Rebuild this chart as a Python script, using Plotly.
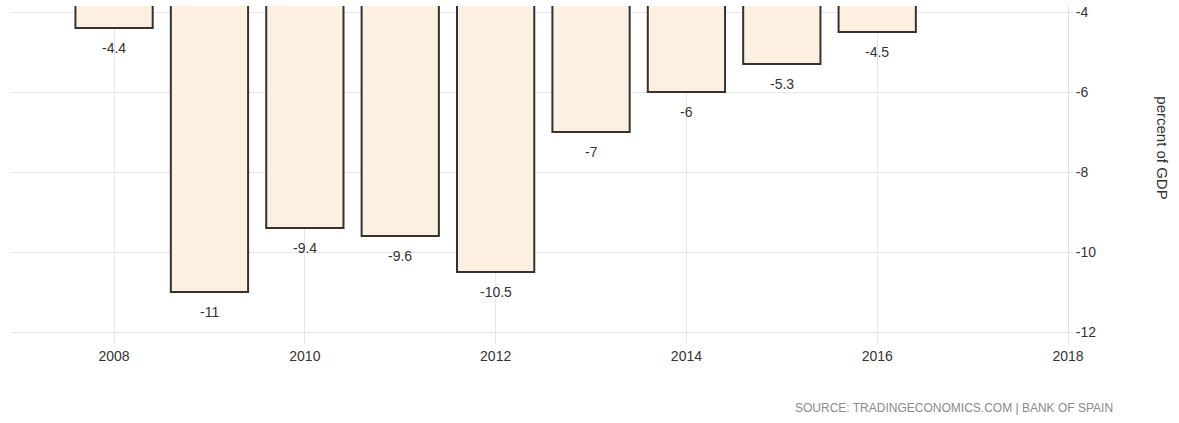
import plotly.graph_objects as go

years = [2008, 2009, 2010, 2011, 2012, 2013, 2014, 2015, 2016]
values = [-4.4, -11, -9.4, -9.6, -10.5, -7, -6, -5.3, -4.5]
labels = ["-4.4", "-11", "-9.4", "-9.6", "-10.5", "-7", "-6", "-5.3", "-4.5"]
x_ticks = [2008, 2010, 2012, 2014, 2016, 2018]
y_ticks = [-4, -6, -8, -10, -12]

FONT = "Liberation Sans, Arial"

fig = go.Figure()
fig.add_trace(go.Bar(
    x=years, y=values, width=0.81,
    marker=dict(color="#fdf0e0", line=dict(color="#333333", width=2)),
    hoverinfo="x+y",
))

for x, y, t in zip(years, values, labels):
    fig.add_annotation(x=x, y=y, text=t, showarrow=False, yshift=-20,
                       yanchor="middle", xanchor="center",
                       font=dict(family=FONT, size=14, color="#333333"))

fig.add_annotation(xref="paper", yref="paper", x=1.0895, y=0.565, text="percent of GDP",
                   textangle=90, showarrow=False, xanchor="center", yanchor="middle",
                   font=dict(family=FONT, size=15, color="#333333"))
fig.add_annotation(xref="paper", yref="paper", x=1.0445, y=-0.232,
                   text="SOURCE: TRADINGECONOMICS.COM | BANK OF SPAIN",
                   showarrow=False, xanchor="right", yanchor="middle",
                   font=dict(family=FONT, size=12, color="#8a8a8a"))

fig.update_layout(
    width=1179, height=423,
    margin=dict(l=12, r=111, t=4, b=91),
    paper_bgcolor="white", plot_bgcolor="white",
    showlegend=False,
    xaxis=dict(range=[2006.93, 2018], tickvals=x_ticks, ticktext=[str(v) for v in x_ticks],
               showgrid=True, gridcolor="#e6e6e6", gridwidth=1,
               ticks="outside", ticklen=11, tickcolor="#e6e6e6",
               showline=True, linecolor="#e0e0e0", linewidth=1,
               zeroline=False,
               tickfont=dict(family=FONT, size=14, color="#333333")),
    yaxis=dict(range=[-12, -3.85], tickvals=y_ticks, ticktext=[str(v) for v in y_ticks],
               side="right", showgrid=True, gridcolor="#e6e6e6", gridwidth=1,
               ticks="outside", ticklen=4, tickcolor="#e0e0e0",
               showline=True, linecolor="#e0e0e0", linewidth=1,
               zeroline=False,
               tickfont=dict(family=FONT, size=14, color="#333333")),
)

fig.write_html("out.html", config={"displayModeBar": False},
               post_script="document.body.style.margin='0';document.body.style.overflow='hidden';")
